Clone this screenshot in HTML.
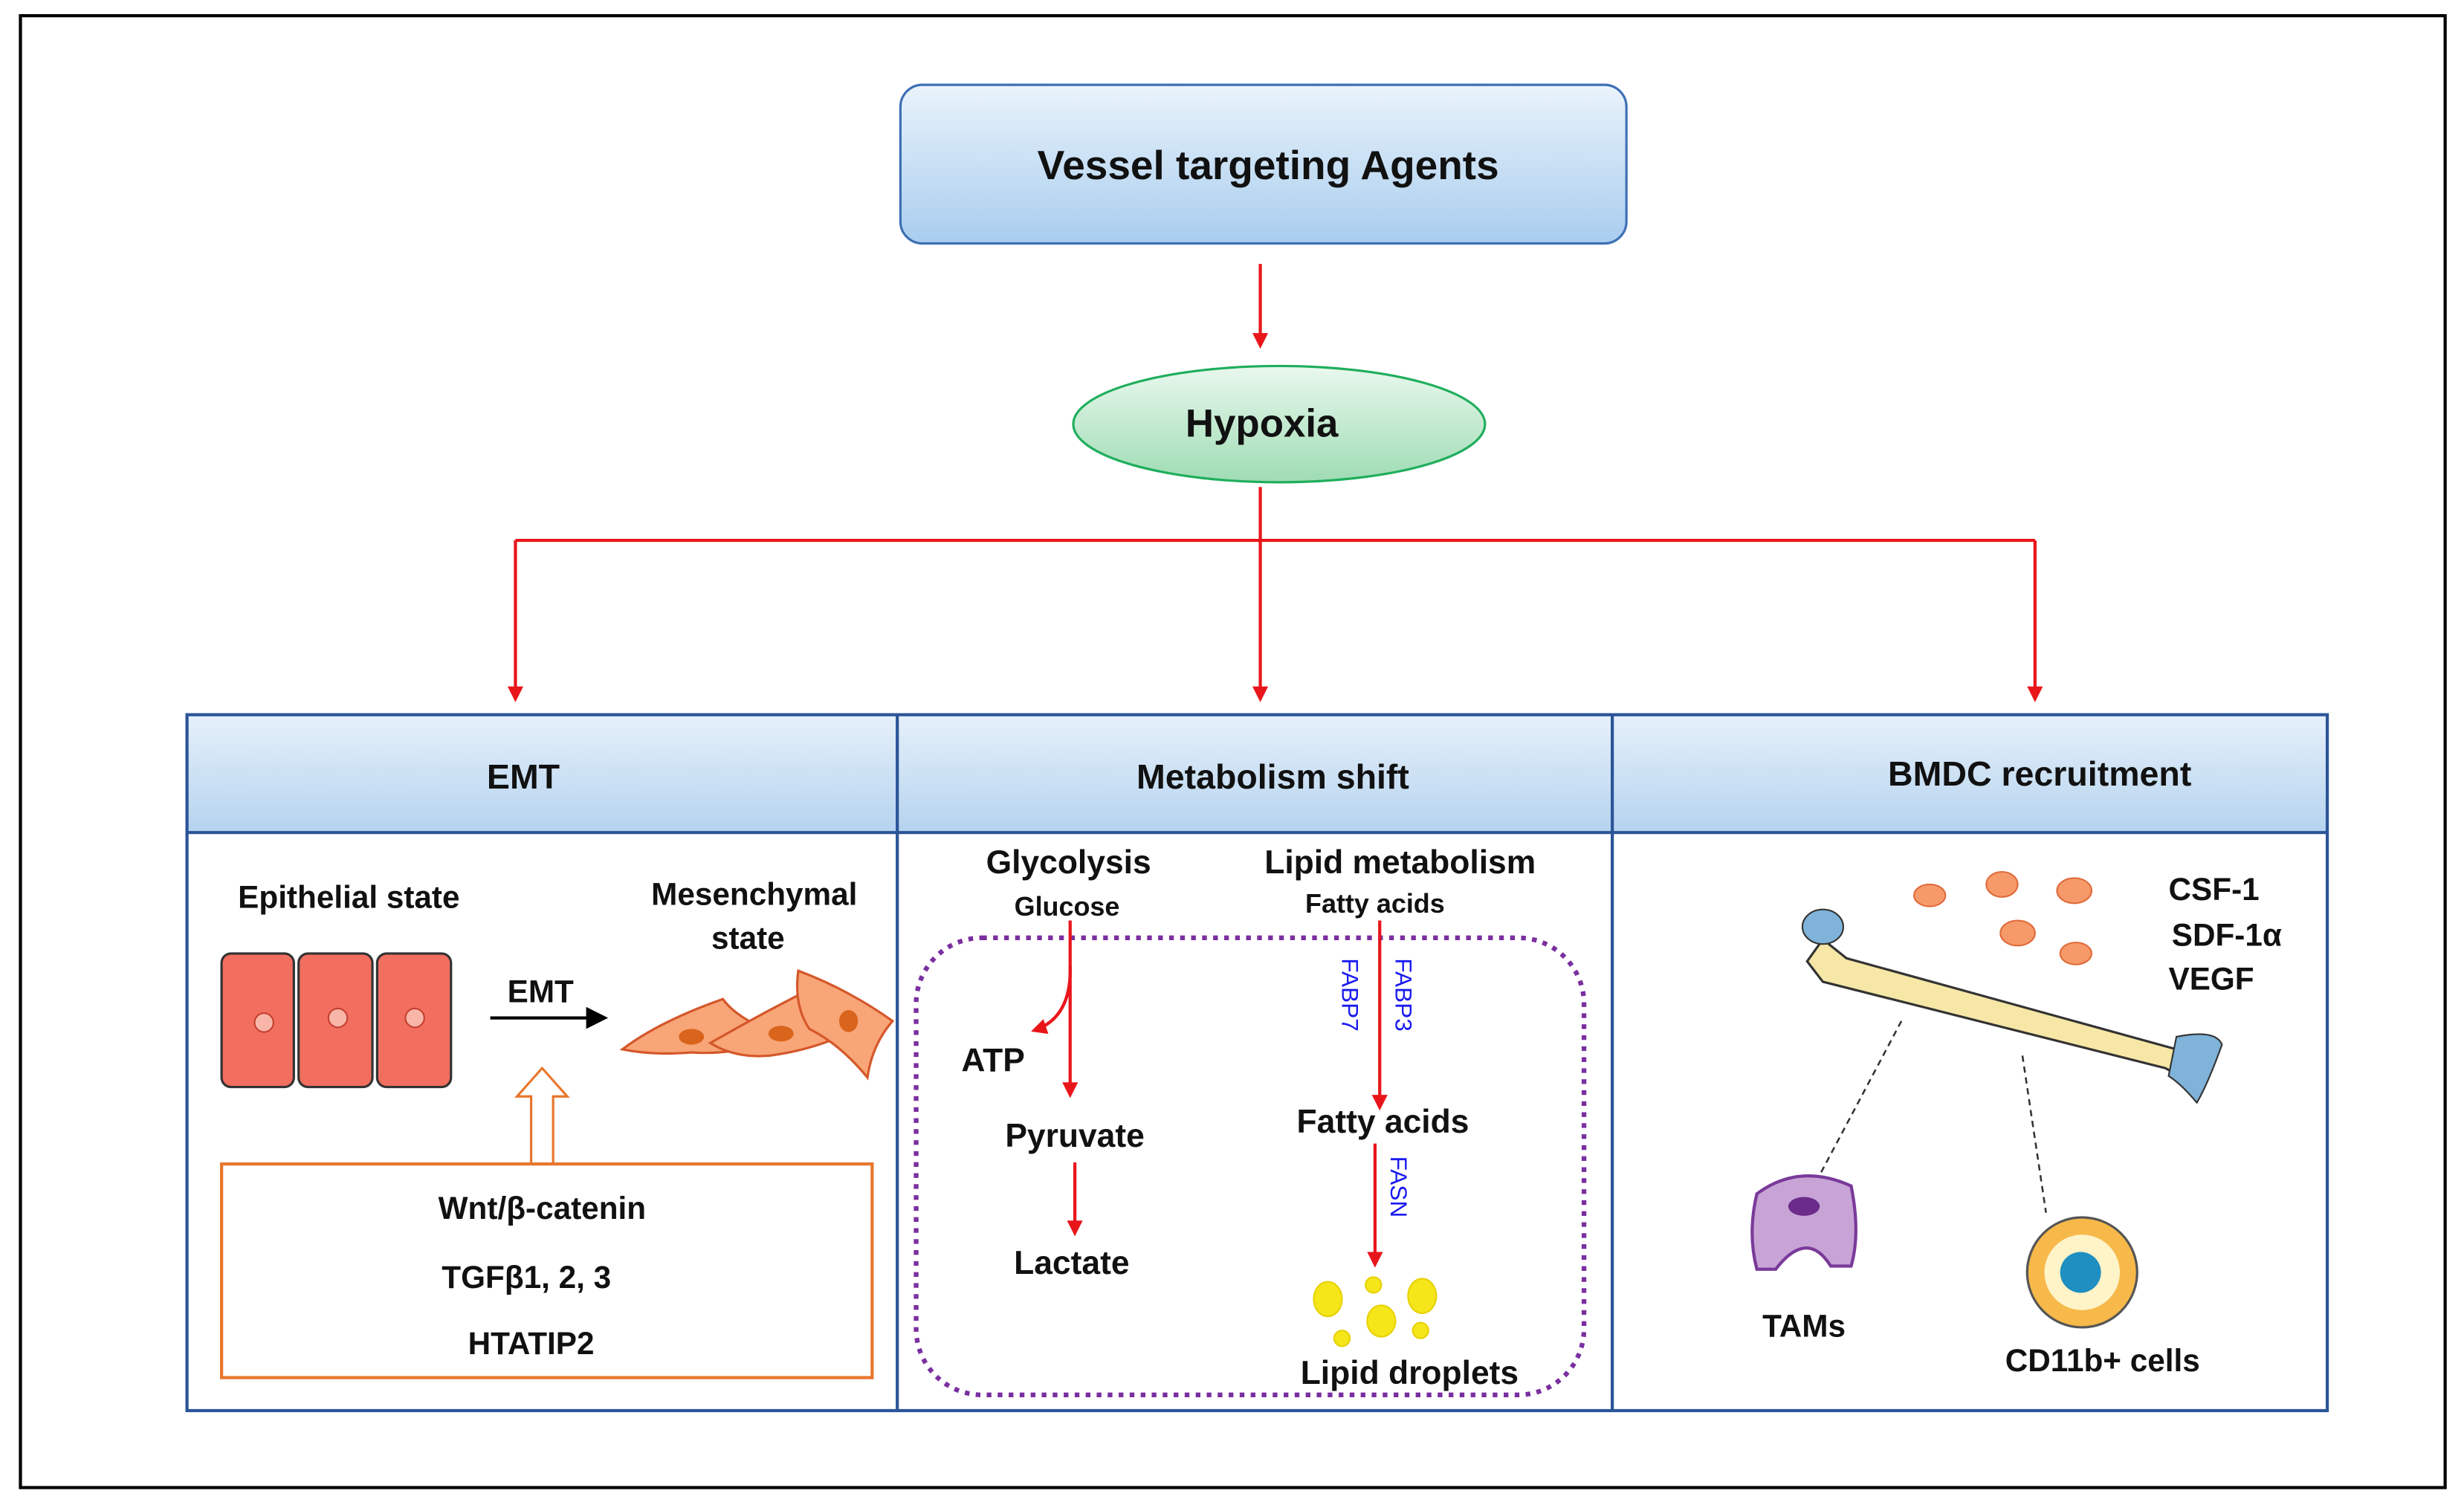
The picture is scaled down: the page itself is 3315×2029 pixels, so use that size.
<!DOCTYPE html>
<html><head><meta charset="utf-8"><style>
html,body{margin:0;padding:0;background:#fff}
svg{display:block}
text{font-family:"Liberation Sans",Arial,sans-serif;fill:#111;font-weight:bold}
</style></head><body>
<svg width="3315" height="2029" viewBox="0 0 1568 960" preserveAspectRatio="none" xmlns="http://www.w3.org/2000/svg">
<defs>
<linearGradient id="gb" x1="0" y1="0" x2="0" y2="1"><stop offset="0" stop-color="#eaf3fb"/><stop offset="1" stop-color="#a8cdee"/></linearGradient>
<linearGradient id="gh" x1="0" y1="0" x2="0" y2="1"><stop offset="0" stop-color="#e6f0fa"/><stop offset="1" stop-color="#b5d3ef"/></linearGradient>
<linearGradient id="gg" x1="0" y1="0" x2="0" y2="1"><stop offset="0" stop-color="#e9f8ee"/><stop offset="1" stop-color="#9fdcb4"/></linearGradient>
<marker id="ar" markerWidth="10" markerHeight="10" refX="8" refY="5" orient="auto" markerUnits="userSpaceOnUse"><path d="M0,0 L10,5 L0,10 z" fill="#e8161b"/></marker>
<marker id="ab" markerWidth="14" markerHeight="14" refX="12" refY="7" orient="auto" markerUnits="userSpaceOnUse"><path d="M0,0 L14,7 L0,14 z" fill="#000"/></marker>
</defs>
<rect x="13" y="10" width="1543" height="937" fill="none" stroke="#000" stroke-width="2"/>
<rect x="573" y="54" width="462" height="101" rx="14" fill="url(#gb)" stroke="#3d6fb5" stroke-width="1.5"/>
<text x="807" y="114" font-size="26" text-anchor="middle">Vessel targeting Agents</text>
<line x1="802" y1="168" x2="802" y2="220" stroke="#e8161b" stroke-width="2" marker-end="url(#ar)"/>
<ellipse cx="814" cy="270" rx="131" ry="37" fill="url(#gg)" stroke="#1fae5c" stroke-width="1.5"/>
<text x="803" y="278" font-size="25" text-anchor="middle">Hypoxia</text>
<g stroke="#e8161b" stroke-width="2" fill="none">
<line x1="802" y1="310" x2="802" y2="344"/>
<line x1="328" y1="344" x2="1295" y2="344"/>
<line x1="328" y1="344" x2="328" y2="445" marker-end="url(#ar)"/>
<line x1="802" y1="344" x2="802" y2="445" marker-end="url(#ar)"/>
<line x1="1295" y1="344" x2="1295" y2="445" marker-end="url(#ar)"/>
</g>
<rect x="119" y="455" width="1362" height="75" fill="url(#gh)"/>
<rect x="119" y="455" width="1362" height="443" fill="none" stroke="#2b5597" stroke-width="2"/>
<line x1="119" y1="530" x2="1481" y2="530" stroke="#2b5597" stroke-width="2"/>
<line x1="571" y1="455" x2="571" y2="898" stroke="#2b5597" stroke-width="2"/>
<line x1="1026" y1="455" x2="1026" y2="898" stroke="#2b5597" stroke-width="2"/>
<text x="333" y="502" font-size="22" text-anchor="middle">EMT</text>
<text x="810" y="502" font-size="22" text-anchor="middle">Metabolism shift</text>
<text x="1298" y="500" font-size="22" text-anchor="middle">BMDC  recruitment</text>
<text x="222" y="578" font-size="20" text-anchor="middle">Epithelial state</text>
<g stroke="#333" stroke-width="1.5" fill="#f26e5f">
<rect x="141" y="607" width="46" height="85" rx="6"/>
<rect x="190" y="607" width="47" height="85" rx="6"/>
<rect x="240" y="607" width="47" height="85" rx="6"/>
</g>
<g fill="#f8b6a8" stroke="#c3402f"><circle cx="168" cy="651" r="6"/><circle cx="215" cy="648" r="6"/><circle cx="264" cy="648" r="6"/></g>
<text x="344" y="638" font-size="20" text-anchor="middle">EMT</text>
<line x1="312" y1="648" x2="385" y2="648" stroke="#000" stroke-width="2" marker-end="url(#ab)"/>
<text x="480" y="576" font-size="20" text-anchor="middle">Mesenchymal</text>
<text x="476" y="604" font-size="20" text-anchor="middle">state</text>
<g fill="#f8a577" stroke="#d4572a" stroke-width="1.5">
<path d="M396,668 Q420,650 460,636 Q470,650 500,660 Q470,672 440,670 Q415,672 396,668z"/>
<path d="M452,664 Q485,645 515,630 Q518,648 545,655 Q520,668 490,672 Q468,674 452,664z"/>
<path d="M508,618 Q540,630 568,650 Q555,665 552,686 Q535,665 515,655 Q505,640 508,618z"/>
</g>
<g fill="#d9641b"><ellipse cx="440" cy="660" rx="8" ry="5"/><ellipse cx="497" cy="658" rx="8" ry="5"/><ellipse cx="540" cy="650" rx="6" ry="7"/></g>
<path d="M338,740 L338,698 L329,698 L345,680 L361,698 L352,698 L352,740" fill="#fff" stroke="#e8762d" stroke-width="1.5"/>
<rect x="141" y="741" width="414" height="136" fill="none" stroke="#e8762d" stroke-width="2"/>
<text x="345" y="776" font-size="20" text-anchor="middle">Wnt/β-catenin</text>
<text x="335" y="820" font-size="20" text-anchor="middle">TGFβ1, 2, 3</text>
<text x="338" y="862" font-size="20" text-anchor="middle">HTATIP2</text>
<text x="680" y="556" font-size="21" text-anchor="middle">Glycolysis</text>
<text x="679" y="583" font-size="17" text-anchor="middle">Glucose</text>
<text x="891" y="556" font-size="21" text-anchor="middle">Lipid metabolism</text>
<text x="875" y="581" font-size="17" text-anchor="middle">Fatty acids</text>
<rect x="583" y="597" width="425" height="291" rx="42" fill="none" stroke="#7a2fa0" stroke-width="3" stroke-dasharray="3,4"/>
<g stroke="#e8161b" stroke-width="2" fill="none">
<line x1="681" y1="586" x2="681" y2="697" marker-end="url(#ar)"/>
<path d="M681,615 Q682,648 658,656" marker-end="url(#ar)"/>
<line x1="684" y1="740" x2="684" y2="785" marker-end="url(#ar)"/>
<line x1="878" y1="586" x2="878" y2="705" marker-end="url(#ar)"/>
<line x1="875" y1="728" x2="875" y2="805" marker-end="url(#ar)"/>
</g>
<text x="632" y="682" font-size="21" text-anchor="middle">ATP</text>
<text x="684" y="730" font-size="21" text-anchor="middle">Pyruvate</text>
<text x="682" y="811" font-size="21" text-anchor="middle">Lactate</text>
<text x="880" y="721" font-size="21" text-anchor="middle">Fatty acids</text>
<g font-size="15">
<text transform="translate(854,610) rotate(90)" style="fill:#1a1af0;font-weight:normal">FABP7</text>
<text transform="translate(888,610) rotate(90)" style="fill:#1a1af0;font-weight:normal">FABP3</text>
<text transform="translate(885,736) rotate(90)" style="fill:#1a1af0;font-weight:normal">FASN</text>
</g>
<g fill="#f5e61a" stroke="#e7d100"><ellipse cx="845" cy="827" rx="9" ry="11"/><ellipse cx="879" cy="841" rx="9" ry="10"/><ellipse cx="905" cy="825" rx="9" ry="11"/><circle cx="874" cy="818" r="5"/><circle cx="854" cy="852" r="5"/><circle cx="904" cy="847" r="5"/></g>
<text x="897" y="881" font-size="21" text-anchor="middle">Lipid droplets</text>
<path d="M1160,598 L1175,610 L1385,668 L1400,672 L1396,690 L1378,680 L1160,625 L1150,612z" fill="#f6e7a6" stroke="#333" stroke-width="1.5"/>
<ellipse cx="1160" cy="590" rx="13" ry="11" fill="#7fb3d9" stroke="#333"/>
<path d="M1385,660 Q1410,655 1414,665 Q1405,690 1398,702 Q1388,690 1380,685z" fill="#7fb3d9" stroke="#333"/>
<g fill="#f79a6a" stroke="#e06b3b"><ellipse cx="1228" cy="570" rx="10" ry="7"/><ellipse cx="1274" cy="563" rx="10" ry="8"/><ellipse cx="1320" cy="567" rx="11" ry="8"/><ellipse cx="1284" cy="594" rx="11" ry="8"/><ellipse cx="1321" cy="607" rx="10" ry="7"/></g>
<text x="1380" y="573" font-size="20">CSF-1</text>
<text x="1382" y="602" font-size="20">SDF-1α</text>
<text x="1380" y="630" font-size="20">VEGF</text>
<g stroke="#333" stroke-width="1.2" stroke-dasharray="4,3"><line x1="1210" y1="650" x2="1158" y2="748"/><line x1="1287" y1="672" x2="1302" y2="772"/></g>
<path d="M1118,760 Q1145,740 1178,755 Q1184,785 1178,806 L1165,806 Q1150,782 1130,808 L1118,808 Q1112,785 1118,760z" fill="#c8a4d6" stroke="#7a3a9a" stroke-width="2"/>
<ellipse cx="1148" cy="768" rx="10" ry="6" fill="#6a2b8a"/>
<text x="1148" y="851" font-size="20" text-anchor="middle">TAMs</text>
<circle cx="1325" cy="810" r="35" fill="#f7b94a" stroke="#555" stroke-width="1.5"/>
<circle cx="1325" cy="810" r="24" fill="#fff3c8"/>
<circle cx="1324" cy="810" r="13" fill="#1e8fc0"/>
<text x="1338" y="873" font-size="20" text-anchor="middle">CD11b+ cells</text>
</svg>
</body></html>
